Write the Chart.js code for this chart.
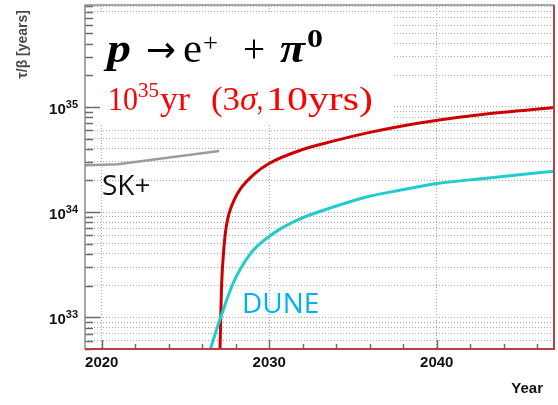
<!DOCTYPE html>
<html>
<head>
<meta charset="utf-8">
<script src="https://cdn.jsdelivr.net/npm/chart.js@4.4.0/dist/chart.umd.min.js"></script>
<style>
  html, body { margin: 0; padding: 0; background: #fff; }
</style>
</head>
<body>
<canvas id="chart" width="558" height="405"></canvas>
<script>
// values (year, tau/beta in years)
const skYears = [2019.0, 2020.96, 2027.0];
const skValues = [2.79e34, 2.85e34, 3.8e34];

const duneYears = [2026.40, 2026.47, 2027.10, 2027.88, 2028.90, 2029.79, 2030.69, 2031.88, 2033.07, 2035.86, 2037.85, 2040.04, 2042.83, 2047.0];
const duneValues = [4.5e32, 4.9e32, 1.0e33, 2.17e33, 4.08e33, 5.55e33, 6.97e33, 8.67e33, 1.02e34, 1.40e34, 1.62e34, 1.87e34, 2.09e34, 2.45e34];

const hkYears = [2027.00, 2027.06, 2027.10, 2027.15, 2027.27, 2027.40, 2027.60, 2027.90, 2028.30, 2029.10, 2029.99, 2031.88, 2033.87, 2035.86, 2037.85, 2040.04, 2042.83, 2047.0];
const hkValues = [4.0e32, 5.0e32, 9.4e32, 1.95e33, 4.1e33, 6.7e33, 9.7e33, 1.3e34, 1.68e34, 2.3e34, 2.9e34, 3.88e34, 4.75e34, 5.66e34, 6.56e34, 7.48e34, 8.53e34, 9.87e34];

// axis ticks
const xTicks = [2020, 2022, 2024, 2026, 2028, 2030, 2032, 2034, 2036, 2038, 2040, 2042, 2044, 2046];
const xLabelYears = [2020, 2030, 2040];
const yDecades = [1e32, 1e33, 1e34, 1e35];
const yMajor = [1e33, 1e34, 1e35];
const yMajorExp = ['33', '34', '35'];

const xMin = 2019, xMax = 2047;
const yMin = 5e32, yMax = 9.3e35;

function toXY(xs, ys) {
  return xs.map((x, i) => ({ x: x, y: ys[i] }));
}

// all 1..9 x 10^n ticks inside the range
const yTicks = [];
yDecades.forEach(d => {
  for (let k = 1; k <= 9; k++) {
    const v = k * d;
    if (v >= yMin * 0.999 && v <= yMax) yTicks.push(v);
  }
});

const SANS = '"Liberation Sans", Arial, Helvetica, sans-serif';
const SERIF = '"Liberation Serif", "DejaVu Serif", serif';
const CAL = '"Open Sans", "Noto Sans", sans-serif';

// draw a text piece squeezed/stretched to a given width
function fitText(ctx, text, font, x, y, w) {
  ctx.font = font;
  const m = ctx.measureText(text).width;
  ctx.save();
  ctx.translate(x, y);
  ctx.scale(w / m, 1);
  ctx.fillText(text, 0, 0);
  ctx.restore();
}

const rootStyle = {
  id: 'rootStyle',
  beforeDatasetsDraw(chart) {
    const ctx = chart.ctx;
    const a = chart.chartArea;
    const xs = chart.scales.x, ys = chart.scales.y;

    // white text box that hides the grid behind the title
    ctx.save();
    ctx.fillStyle = '#ffffff';
    ctx.fillRect(a.left + 1.5, 12, 393 - a.left - 1.5, 125 - 12);
    ctx.restore();

    // ROOT style ticks inside the frame
    ctx.save();
    ctx.strokeStyle = '#6a6a6a';
    ctx.lineWidth = 1.5;
    ctx.beginPath();
    yTicks.forEach(v => {
      const py = Math.round(ys.getPixelForValue(v)) + 0.5;
      const len = yMajor.includes(v) ? 15 : 8;
      ctx.moveTo(a.left, py);
      ctx.lineTo(a.left + len, py);
    });
    xTicks.forEach(v => {
      const px = Math.round(xs.getPixelForValue(v)) + 0.5;
      const len = v % 10 === 0 ? 9 : 5;
      ctx.moveTo(px, a.bottom);
      ctx.lineTo(px, a.bottom - len);
    });
    ctx.stroke();
    ctx.restore();
  },
  afterDraw(chart) {
    const ctx = chart.ctx;
    const a = chart.chartArea;
    const ys = chart.scales.y;

    // frame
    ctx.save();
    ctx.lineWidth = 1.5;
    ctx.strokeStyle = '#8a8a8a';
    ctx.beginPath();
    ctx.moveTo(a.left, a.bottom);
    ctx.lineTo(a.left, a.top);
    ctx.lineTo(a.right, a.top);
    ctx.stroke();
    ctx.strokeStyle = '#b84040';
    ctx.lineWidth = 2;
    ctx.beginPath();
    ctx.moveTo(a.right, a.top);
    ctx.lineTo(a.right, a.bottom);
    ctx.lineTo(a.left, a.bottom);
    ctx.stroke();
    ctx.restore();

    // y tick labels 10^n
    ctx.save();
    ctx.fillStyle = '#111';
    ctx.textBaseline = 'alphabetic';
    yMajor.forEach((v, i) => {
      const py = ys.getPixelForValue(v);
      ctx.font = 'bold 11px ' + SANS;
      ctx.textAlign = 'right';
      ctx.fillText(yMajorExp[i], 78, py + 1);
      const w = ctx.measureText(yMajorExp[i]).width;
      ctx.font = 'bold 15px ' + SANS;
      ctx.fillText('10', 78 - w, py + 7);
    });
    ctx.restore();

    // axis titles
    ctx.save();
    ctx.fillStyle = '#4a4a4a';
    ctx.font = 'bold 14px ' + SANS;
    ctx.translate(23, 10);
    ctx.rotate(-Math.PI / 2);
    ctx.textAlign = 'right';
    ctx.textBaseline = 'middle';
    ctx.fillText('\u03c4/\u03b2 [years]', 0, 0);
    ctx.restore();

    ctx.save();
    ctx.fillStyle = '#111';
    ctx.font = 'bold 15px ' + SANS;
    ctx.textAlign = 'right';
    ctx.fillText('Year', 543, 393);
    ctx.restore();

    // annotations
    ctx.save();
    ctx.textAlign = 'left';
    ctx.fillStyle = '#000';
    fitText(ctx, 'p', 'italic bold 40px ' + SERIF, 107, 62, 24);
    fitText(ctx, '\u2192', '36px "DejaVu Sans", sans-serif', 146, 62, 30);
    fitText(ctx, 'e', '40px ' + SERIF, 183, 62, 19);
    fitText(ctx, '+', '26px ' + SERIF, 203, 51, 15);
    fitText(ctx, '+', '40px ' + SERIF, 243, 62, 22);
    fitText(ctx, '\u03c0', 'italic bold 40px ' + SERIF, 280, 62, 25);
    fitText(ctx, '0', 'bold 25px ' + SERIF, 307, 47, 16);

    ctx.fillStyle = '#ff0000';
    fitText(ctx, '10', '34px ' + SERIF, 108, 110, 30);
    fitText(ctx, '35', '22px ' + SERIF, 138, 97, 21);
    fitText(ctx, 'yr', '34px ' + SERIF, 160, 110, 30);
    fitText(ctx, '(3', '34px ' + SERIF, 211, 110, 29);
    fitText(ctx, '\u03c3', 'italic 34px ' + SERIF, 240, 110, 17);
    fitText(ctx, ',', '34px ' + SERIF, 257, 110, 6);
    fitText(ctx, '10yrs)', '34px ' + SERIF, 266, 110, 107);

    ctx.fillStyle = '#111';
    ctx.font = '28px ' + CAL;
    ctx.fillText('SK+', 102, 195);

    ctx.fillStyle = '#00b0f0';
    ctx.font = '28px ' + CAL;
    ctx.fillText('DUNE', 242, 313);
    ctx.restore();
  }
};

new Chart(document.getElementById('chart'), {
  type: 'line',
  data: {
    datasets: [
      {
        label: 'SK+',
        data: toXY(skYears, skValues),
        borderColor: '#9c9c9c',
        borderWidth: 2.5,
        pointRadius: 0,
        tension: 0
      },
      {
        label: 'DUNE',
        data: toXY(duneYears, duneValues),
        borderColor: '#22cccc',
        borderWidth: 3,
        pointRadius: 0,
        cubicInterpolationMode: 'monotone'
      },
      {
        label: 'Hyper-K',
        data: toXY(hkYears, hkValues),
        borderColor: '#cc0000',
        borderWidth: 3,
        pointRadius: 0,
        cubicInterpolationMode: 'monotone'
      }
    ]
  },
  options: {
    responsive: false,
    animation: false,
    devicePixelRatio: 1,
    layout: { padding: { top: 5, right: 4, left: 0, bottom: 0 } },
    plugins: {
      legend: { display: false },
      tooltip: { enabled: false }
    },
    scales: {
      x: {
        type: 'linear',
        min: xMin,
        max: xMax,
        afterBuildTicks: s => { s.ticks = xTicks.map(v => ({ value: v })); },
        afterFit: s => { s.height = 56; },
        ticks: {
          autoSkip: false,
          maxRotation: 0,
          padding: 5,
          color: '#111',
          font: { family: SANS, size: 15, weight: 'bold' },
          callback: v => xLabelYears.includes(v) ? String(v) : ''
        },
        grid: {
          drawTicks: false,
          lineWidth: 1,
          color: c => (c.tick && xLabelYears.includes(c.tick.value)) ? '#a8a8a8' : 'rgba(0,0,0,0)'
        },
        border: { display: false, dash: [1, 2] }
      },
      y: {
        type: 'logarithmic',
        min: yMin,
        max: yMax,
        afterBuildTicks: s => { s.ticks = yTicks.map(v => ({ value: v })); },
        afterFit: s => { s.width = 85; },
        ticks: { display: false },
        grid: {
          drawTicks: false,
          lineWidth: 1,
          color: '#a8a8a8'
        },
        border: { display: false, dash: [1, 2] }
      }
    }
  },
  plugins: [rootStyle]
});
</script>
</body>
</html>
